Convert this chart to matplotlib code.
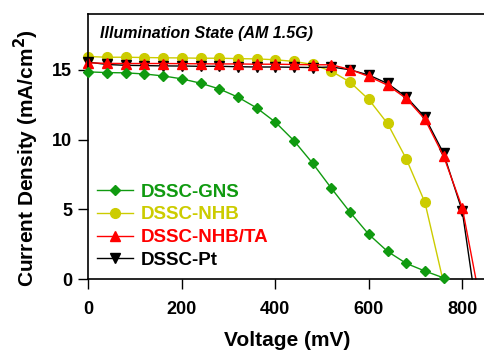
import numpy as np
import matplotlib
matplotlib.use('Agg')
import matplotlib.pyplot as plt

plt.rcParams['font.family'] = ['Liberation Sans', 'DejaVu Sans']
plt.rcParams['font.weight'] = 'bold'

# Data (voltage in mV, current density in mA/cm2)
v_gns = [0, 40, 80, 120, 160, 200, 240, 280, 320, 360, 400, 440, 480, 520,
         560, 600, 640, 680, 720, 760]
j_gns = [14.85, 14.8, 14.78, 14.7, 14.56, 14.35, 14.04, 13.63, 13.04, 12.27,
         11.25, 9.91, 8.29, 6.5, 4.78, 3.2, 1.98, 1.12, 0.57, 0.08]

v_nhb = [0, 40, 80, 120, 160, 200, 240, 280, 320, 360, 400, 440, 480, 520,
         560, 600, 640, 680, 720, 758]
j_nhb = [15.95, 15.9, 15.9, 15.88, 15.86, 15.85, 15.83, 15.83, 15.8, 15.78,
         15.72, 15.6, 15.38, 14.9, 14.11, 12.87, 11.15, 8.62, 5.49, 0.0]
m_nhb = list(range(len(v_nhb) - 1))

v_ta = [0, 40, 80, 120, 160, 200, 240, 280, 320, 360, 400, 440, 480, 520,
        560, 600, 640, 680, 720, 760, 800, 829]
j_ta = [15.5, 15.46, 15.45, 15.45, 15.45, 15.44, 15.43, 15.42, 15.42, 15.4,
        15.4, 15.38, 15.36, 15.36, 15.02, 14.52, 13.9, 12.95, 11.45, 8.8,
        5.1, 0.0]
m_ta = list(range(len(v_ta) - 1))

v_pt = [0, 40, 80, 120, 160, 200, 240, 280, 320, 360, 400, 440, 480, 520,
        560, 600, 640, 680, 720, 760, 800, 821]
j_pt = [15.55, 15.38, 15.32, 15.3, 15.28, 15.27, 15.25, 15.25, 15.22, 15.2,
        15.2, 15.18, 15.16, 15.2, 15.0, 14.62, 14.02, 13.06, 11.6, 9.0,
        4.85, 0.0]
m_pt = list(range(len(v_pt) - 1))

c_gns = '#109a10'
c_nhb = '#cccc00'
c_ta = '#ff0000'
c_pt = '#000000'

fig = plt.figure(figsize=(4.84, 3.51), dpi=100)
ax = fig.add_axes([88.3 / 484, 72 / 351, 397.4 / 484, 265 / 351])

ax.plot(v_gns, j_gns, '-D', color=c_gns, lw=1, ms=5, mec=c_gns,
        label='DSSC-GNS', clip_on=False, zorder=3)
ax.plot(v_nhb, j_nhb, '-o', color=c_nhb, lw=1, ms=7, markevery=m_nhb,
        label='DSSC-NHB', clip_on=False, zorder=2)
ax.plot(v_pt, j_pt, '-v', color=c_pt, lw=1, ms=6.5, markevery=m_pt,
        label='DSSC-Pt', clip_on=False, zorder=2)
ax.plot(v_ta, j_ta, '-^', color=c_ta, lw=1, ms=6.5, markevery=m_ta,
        label='DSSC-NHB/TA', clip_on=False, zorder=2)

ax.set_xlim(0, 850)
ax.set_ylim(0, 19)
ax.set_xticks([0, 200, 400, 600, 800])
ax.set_yticks([0, 5, 10, 15])
ax.tick_params(direction='out', length=7.5, width=1, labelsize=13)
ax.tick_params(axis='x', pad=8)
ax.tick_params(axis='y', pad=4)
for s in ax.spines.values():
    s.set_linewidth(1.2)

ax.set_xlabel('Voltage (mV)', fontsize=15, fontweight='bold', labelpad=10)
ax.set_ylabel('Current Density (mA/cm$^\\mathbf{2}$)', fontsize=15,
              fontweight='bold')
ax.yaxis.set_label_coords(-0.12, 0.455)

ax.text(25, 17.6, 'Illumination State (AM 1.5G)', fontsize=11.5,
        fontweight='bold', style='italic', va='center')

h, l = ax.get_legend_handles_labels()
order = [0, 1, 3, 2]
leg = ax.legend([h[i] for i in order], [l[i] for i in order],
                loc='upper left', bbox_to_anchor=(-0.01, 0.41), frameon=False,
                fontsize=13.5, handlelength=1.9, handletextpad=0.4,
                labelspacing=0.3, borderaxespad=0.3)
for t, c in zip(leg.get_texts(), [c_gns, c_nhb, c_ta, c_pt]):
    t.set_color(c)
    t.set_fontweight('bold')

fig.savefig('out.png', dpi=100)
